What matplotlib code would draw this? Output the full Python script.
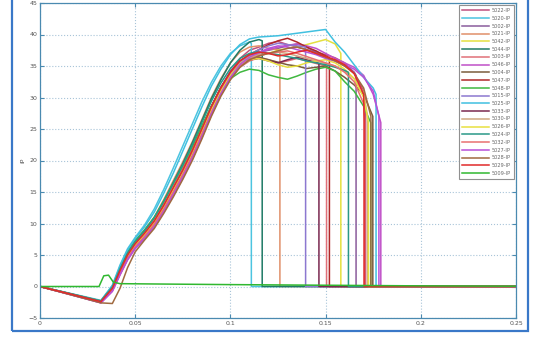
import matplotlib
matplotlib.use("Agg")
import matplotlib.pyplot as plt
from matplotlib.patches import Rectangle

# Probennamen in Legendenreihenfolge
labels = ["5022-IP", "5020-IP", "5002-IP", "5021-IP", "5042-IP", "5044-IP",
          "5003-IP", "5046-IP", "5004-IP", "5047-IP", "5048-IP", "5015-IP",
          "5025-IP", "5033-IP", "5030-IP", "5026-IP", "5024-IP", "5032-IP",
          "5027-IP", "5028-IP", "5029-IP"]

colors = ["#c0507e", "#4cc4e0", "#8a5c9c", "#e0906a", "#e4e040", "#1f7a66",
          "#e07078", "#c050c8", "#7a5c3c", "#b02828", "#40b840", "#8c78d0",
          "#40c0e0", "#7a2850", "#d0a880", "#e8e040", "#2a9888", "#e87070",
          "#b850d8", "#a06a40", "#e02a2a"]

# gemeinsame x-Stützstellen für Anstieg und Plateau
x_grid = [0, 0.032, 0.038, 0.042, 0.046, 0.050, 0.055, 0.060, 0.065, 0.070,
          0.075, 0.080, 0.085, 0.090, 0.095, 0.100, 0.105, 0.110, 0.115, 0.120,
          0.125, 0.130, 0.135, 0.140, 0.145, 0.150, 0.155, 0.160, 0.165, 0.170,
          0.175]

curve_y = [
    [0, -2.5, -0.4, 2.3, 4.8, 6.6, 8.3, 10.2, 12.6, 15.4, 18.2, 21.2, 24.6, 28.2, 31.3, 34.0, 36.2, 37.5, 38.0, 38.6, 38.9, 38.4, 38.0, 37.6, 37.2, 36.8, 36.3, 35.5, 34.0, 31.0],
    [0, -2.2, 0.2, 3.4, 6.0, 7.8, 9.8, 12.3, 15.4, 18.8, 22.3, 25.8, 29.3, 32.4, 35.0, 37.0, 38.2, 38.8],
    [0, -2.4, -0.3, 2.6, 5.1, 6.9, 8.6, 10.6, 13.2, 16.0, 18.8, 21.8, 25.2, 28.6, 31.6, 34.2, 35.8, 36.6, 37.2, 37.5, 37.8, 38.2, 38.5, 38.0, 37.2, 36.5, 35.8, 35.0, 34.0],
    [0, -2.3, -0.1, 2.8, 5.4, 7.2, 9.0, 11.0, 13.8, 16.8, 19.8, 23.0, 26.5, 30.0, 33.0, 35.5, 37.2, 38.0, 38.2, 37.8, 37.6],
    [0, -2.4, -0.5, 2.2, 4.6, 6.4, 8.0, 9.8, 12.2, 14.8, 17.5, 20.5, 24.0, 27.5, 30.8, 33.5, 35.5, 36.5, 36.8, 37.0, 37.5, 37.8, 38.0, 38.4, 38.8, 39.2, 38.5],
    [0, -2.4, -0.2, 2.7, 5.2, 7.0, 8.8, 10.8, 13.5, 16.5, 19.5, 22.8, 26.3, 29.8, 32.8, 35.5, 37.5, 38.8, 39.2],
    [0, -2.5, -0.6, 2.0, 4.4, 6.2, 7.8, 9.6, 12.0, 14.6, 17.3, 20.3, 23.8, 27.3, 30.5, 33.0, 34.8, 35.8, 36.3, 36.0, 35.5, 35.8, 36.2, 35.8, 35.4, 35.0],
    [0, -2.6, -0.8, 1.8, 4.2, 6.0, 7.6, 9.4, 11.8, 14.4, 17.2, 20.2, 23.6, 27.2, 30.4, 33.0, 35.0, 36.2, 37.0, 37.6, 38.0, 38.3, 38.5, 38.2, 37.8, 37.0, 36.2, 35.5, 34.8, 33.5, 30.5],
    [0, -2.5, -0.4, 2.4, 4.9, 6.7, 8.4, 10.3, 12.8, 15.6, 18.4, 21.5, 25.0, 28.5, 31.5, 33.8, 35.2, 36.0, 36.4, 36.0, 35.6, 35.2, 35.0, 34.6, 34.8, 35.0, 34.2, 33.2, 32.0, 30.5],
    [0, -2.4, -0.3, 2.5, 5.0, 6.8, 8.5, 10.4, 12.9, 15.7, 18.6, 21.6, 25.1, 28.6, 31.6, 34.0, 35.8, 36.8, 37.6, 38.4, 39.0, 39.4, 38.8, 38.0, 37.4, 36.6],
    [0, -2.3, 0.0, 2.9, 5.5, 7.3, 9.0, 11.0, 13.6, 16.4, 19.2, 22.2, 25.5, 28.6, 31.2, 33.0, 34.0, 34.5, 34.3, 33.6, 33.2, 32.9, 33.4, 34.0, 34.5, 34.8, 34.2, 32.5, 31.0, 28.6],
    [0, -2.5, -0.5, 2.2, 4.7, 6.5, 8.2, 10.1, 12.5, 15.2, 18.0, 21.0, 24.4, 28.0, 31.0, 33.6, 35.5, 36.8, 37.6, 38.2, 38.6, 38.4, 38.2],
    [0, -2.3, 0.1, 3.2, 5.8, 7.6, 9.5, 11.8, 14.8, 18.0, 21.5, 25.0, 28.5, 31.8, 34.5, 36.8, 38.4, 39.3, 39.6, 39.7, 39.8, 40.0, 40.2, 40.4, 40.6, 40.8, 38.8, 37.2, 35.2, 33.2, 31.5],
    [0, -2.4, -0.4, 2.4, 4.9, 6.7, 8.4, 10.3, 12.8, 15.6, 18.4, 21.4, 24.9, 28.4, 31.4, 33.8, 35.4, 36.0, 36.2, 35.8, 35.5, 36.0, 36.4, 36.0, 35.6],
    [0, -2.4, -0.3, 2.5, 5.0, 6.8, 8.5, 10.5, 13.0, 15.8, 18.6, 21.6, 25.0, 28.4, 31.4, 33.8, 35.5, 36.3, 36.8, 37.0, 37.2, 37.0, 36.6, 36.2, 35.8, 35.4, 35.0, 34.2, 33.0, 30.8],
    [0, -2.5, -0.5, 2.2, 4.7, 6.5, 8.2, 10.1, 12.5, 15.3, 18.0, 21.0, 24.5, 28.0, 31.0, 33.5, 35.2, 36.0, 36.2, 35.8, 35.2, 34.8, 35.0, 35.5, 35.8, 36.0, 35.5, 34.5, 33.0, 30.0],
    [0, -2.3, -0.1, 2.8, 5.3, 7.1, 8.9, 10.9, 13.5, 16.4, 19.3, 22.5, 26.0, 29.4, 32.3, 34.6, 36.2, 37.0, 37.3, 37.0, 36.8, 36.5, 36.2, 35.8, 35.5, 35.2, 34.8, 34.3],
    [0, -2.5, -0.6, 2.0, 4.5, 6.3, 8.0, 9.9, 12.3, 15.0, 17.8, 20.8, 24.2, 27.6, 30.6, 33.2, 35.0, 36.0, 36.6, 37.0, 37.2, 37.4, 37.0, 36.5, 36.0, 35.5, 35.0, 34.0, 32.5, 29.0],
    [0, -2.6, -0.7, 1.9, 4.3, 6.1, 7.7, 9.5, 11.9, 14.6, 17.4, 20.4, 23.8, 27.4, 30.6, 33.2, 35.2, 36.4, 37.2, 37.8, 38.2, 38.0, 37.6, 37.2, 36.8, 36.2, 35.8, 35.2, 34.5, 33.2, 31.0],
    [0, -2.6, -2.7, -0.3, 3.0, 5.5, 7.4, 9.2, 11.6, 14.2, 17.0, 20.0, 23.4, 27.0, 30.2, 32.8, 34.8, 36.0, 36.6, 37.0, 37.4, 37.8, 38.0, 37.6, 37.0, 36.4, 35.8, 35.0, 33.8, 31.5],
    [0, -2.4, -0.3, 2.5, 5.0, 6.8, 8.5, 10.4, 12.9, 15.7, 18.5, 21.6, 25.0, 28.5, 31.5, 34.0, 35.8, 36.8, 37.2, 37.0, 36.6, 36.8, 37.2, 37.5, 37.0, 36.5, 36.0, 35.2, 33.8, 30.5],
]

# Abbruchstelle (x) und Wert unmittelbar vor dem Abfall
drop_x = [0.171, 0.111, 0.166, 0.126, 0.158, 0.1167, 0.1505, 0.179, 0.1748,
          0.152, 0.1737, 0.1395, 0.1765, 0.1465, 0.172, 0.1725, 0.162, 0.1705,
          0.178, 0.1738, 0.1702]
drop_top = [27, 38.6, 33.5, 37.5, 37, 39, 34.8, 26, 27, 36.3, 26, 38, 30.5,
            35.4, 27, 26, 34, 26, 27, 27, 27]

# Probe 5009 bleibt nahe null
flat_label = "5009-IP"
flat_x = [0, 0.031, 0.0335, 0.036, 0.0385, 0.042, 0.06, 0.10, 0.15, 0.20, 0.25]
flat_y = [0, 0, 1.7, 1.8, 0.7, 0.45, 0.4, 0.3, 0.2, 0.1, 0.05]
flat_color = "#30b830"

x_end = 0.25

fig = plt.figure(figsize=(5.43, 3.38), dpi=100)
fig.patch.set_facecolor("white")
# blauer Fensterrahmen wie im Screenshot
fig.patches.append(Rectangle((12 / 543, 1 - 331 / 338), 516 / 543, 331 / 338 + 0.01,
                             transform=fig.transFigure, fill=False,
                             edgecolor="#3a78c8", linewidth=1.6))

ax = fig.add_axes([40 / 543, 1 - 318 / 338, 476 / 543, 315 / 338])

for lab, col, ys, dx, dt in zip(labels, colors, curve_y, drop_x, drop_top):
    xs = x_grid[:len(ys)] + [dx, dx, x_end]
    yy = list(ys) + [dt, 0, 0]
    ax.plot(xs, yy, color=col, linewidth=1.1, label=lab)

ax.plot(flat_x, flat_y, color=flat_color, linewidth=1.1, label=flat_label)

ax.set_xlim(0, 0.25)
ax.set_ylim(-5, 45)
ax.set_xticks([0, 0.05, 0.1, 0.15, 0.2, 0.25])
ax.set_xticklabels(["0", "0.05", "0.1", "0.15", "0.2", "0.25"])
ax.set_yticks(range(-5, 50, 5))
ax.grid(True, linestyle=":", color="#a8c4d8", linewidth=0.8)
ax.tick_params(direction="in", length=3, labelsize=4.5, colors="#4a8ab0",
               labelcolor="#555555", pad=2, top=True, right=True)
for sp in ax.spines.values():
    sp.set_color("#4a8ab0")
    sp.set_linewidth(0.9)
ax.set_ylabel("iP", fontsize=4.5, color="#555555", labelpad=2)

leg = ax.legend(loc="upper right", fontsize=3.6, handlelength=5.5,
                labelspacing=0.55, borderpad=0.6, handletextpad=0.5,
                fancybox=False, framealpha=1, edgecolor="#909090",
                borderaxespad=0.4)
leg.get_frame().set_linewidth(0.8)
for t in leg.get_texts():
    t.set_color("#666666")

fig.savefig("out.png", dpi=100)
